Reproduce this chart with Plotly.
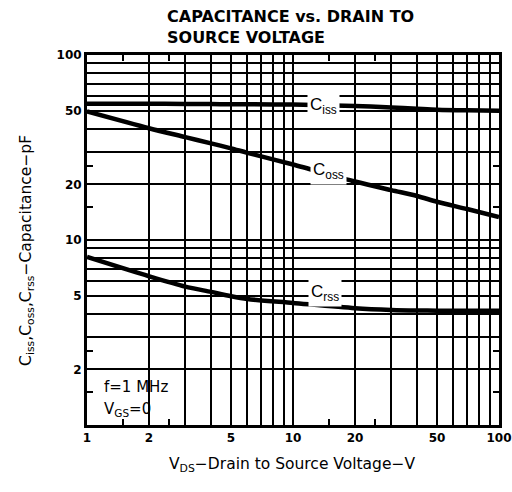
import plotly.graph_objects as go

# ---- data ----
vds = [1, 2, 3, 4, 5, 6, 10, 20, 30, 40, 50, 70, 100]
ciss = [54.5, 54.5, 54.4, 54.3, 54.2, 54.1, 54, 53, 52, 51.2, 50.6, 50.2, 50]
coss = [49.5, 40.2, 36, 33.3, 31.3, 29.6, 25.6, 20.7, 18.6, 17.3, 16.1, 14.7, 13.3]
crss = [8.1, 6.37, 5.6, 5.24, 4.97, 4.8, 4.57, 4.28, 4.19, 4.16, 4.15, 4.15, 4.15]

x_tick_vals = [1, 2, 5, 10, 20, 50, 100]
x_tick_text = ["1", "2", "5", "10", "20", "50", "100"]
y_tick_vals = [2, 5, 10, 20, 50, 100]
y_tick_text = ["2", "5", "10", "20", "50", "100"]
grid_minor = [3, 4, 6, 7, 8, 9, 30, 40, 60, 70, 80, 90]
short_ticks = [1.5, 2.5, 15, 25]

fig = go.Figure()
for ys in (ciss, coss, crss):
    fig.add_trace(go.Scatter(x=vds, y=ys, mode="lines",
                             line=dict(color="black", width=4.5, shape="spline", smoothing=0.8),
                             showlegend=False, hoverinfo="skip"))

# invisible trace to activate secondary axes used for the short edge ticks
fig.add_trace(go.Scatter(x=[1, 100], y=[1, 100], xaxis="x2", yaxis="y2", mode="markers",
                         marker=dict(opacity=0), showlegend=False, hoverinfo="skip"))

tickfont = dict(family="DejaVu Sans", size=12, color="black", weight="bold")

fig.update_layout(
    width=512, height=492,
    margin=dict(l=87, r=13, t=55, b=67, autoexpand=False),
    paper_bgcolor="white", plot_bgcolor="white",
    xaxis=dict(type="log", range=[0, 2], tickvals=x_tick_vals, ticktext=x_tick_text, automargin=False,
               showgrid=True, gridcolor="black", gridwidth=2, zeroline=False,
               showline=True, linecolor="black", linewidth=3, mirror=True, ticks="",
               tickfont=tickfont,
               minor=dict(tickvals=grid_minor, showgrid=True, gridcolor="black", gridwidth=2, ticks="")),
    yaxis=dict(type="log", range=[0, 2], tickvals=y_tick_vals, ticktext=y_tick_text, automargin=False,
               showgrid=True, gridcolor="black", gridwidth=2, zeroline=False,
               showline=True, linecolor="black", linewidth=3, mirror=True, ticks="",
               tickfont=tickfont,
               minor=dict(tickvals=grid_minor, showgrid=True, gridcolor="black", gridwidth=2, ticks="")),
    xaxis2=dict(type="log", range=[0, 2], overlaying="x", anchor="y", side="bottom", automargin=False,
                tickvals=short_ticks, ticks="inside", ticklen=6, tickwidth=2, tickcolor="black",
                showticklabels=False, showgrid=False, zeroline=False, showline=False, mirror="ticks"),
    yaxis2=dict(type="log", range=[0, 2], overlaying="y", anchor="x", side="left", automargin=False,
                tickvals=short_ticks, ticks="inside", ticklen=6, tickwidth=2, tickcolor="black",
                showticklabels=False, showgrid=False, zeroline=False, showline=False, mirror="ticks"),
)

labfont = dict(family="Liberation Sans", size=17, color="black")
curve_labels = [("C<sub>iss</sub>", 0.575, 0.90), ("C<sub>oss</sub>", 0.585, 0.724), ("C<sub>rss</sub>", 0.578, 0.357)]
for txt, xp, yp in curve_labels:
    fig.add_annotation(text=txt, xref="paper", yref="paper", x=xp, y=yp, showarrow=False,
                       font=labfont, bgcolor="white", borderpad=2)

fig.add_annotation(text="CAPACITANCE vs. DRAIN TO<br>SOURCE VOLTAGE", xref="paper", yref="paper",
                   x=0.189, y=1.135, xanchor="left", yanchor="top", align="left", showarrow=False,
                   font=dict(family="DejaVu Sans", size=16, color="black", weight="bold"))
fig.add_annotation(text="f=1 MHz", xref="paper", yref="paper",
                   x=0.037, y=0.103, xanchor="left", yanchor="middle", align="left", showarrow=False,
                   font=dict(family="DejaVu Sans", size=15, color="black"))
fig.add_annotation(text="V<sub>GS</sub>=0", xref="paper", yref="paper",
                   x=0.037, y=0.042, xanchor="left", yanchor="middle", align="left", showarrow=False,
                   font=dict(family="DejaVu Sans", size=15, color="black"))
fig.add_annotation(text="V<sub>DS</sub>\u2212Drain to Source Voltage\u2212V", xref="paper", yref="paper",
                   x=0.4976, y=-0.1405, showarrow=False,
                   font=dict(family="DejaVu Sans", size=15.5, color="black"))
fig.add_annotation(text="C<sub>iss</sub>,C<sub>oss</sub>,C<sub>rss</sub>\u2212Capacitance\u2212pF", xref="paper", yref="paper",
                   x=-0.175, y=0.473, textangle=-90, showarrow=False,
                   font=dict(family="DejaVu Sans", size=15.5, color="black"))

fig.write_html("out.html", config={"displayModeBar": False},
               post_script="document.body.style.margin='0px';")
